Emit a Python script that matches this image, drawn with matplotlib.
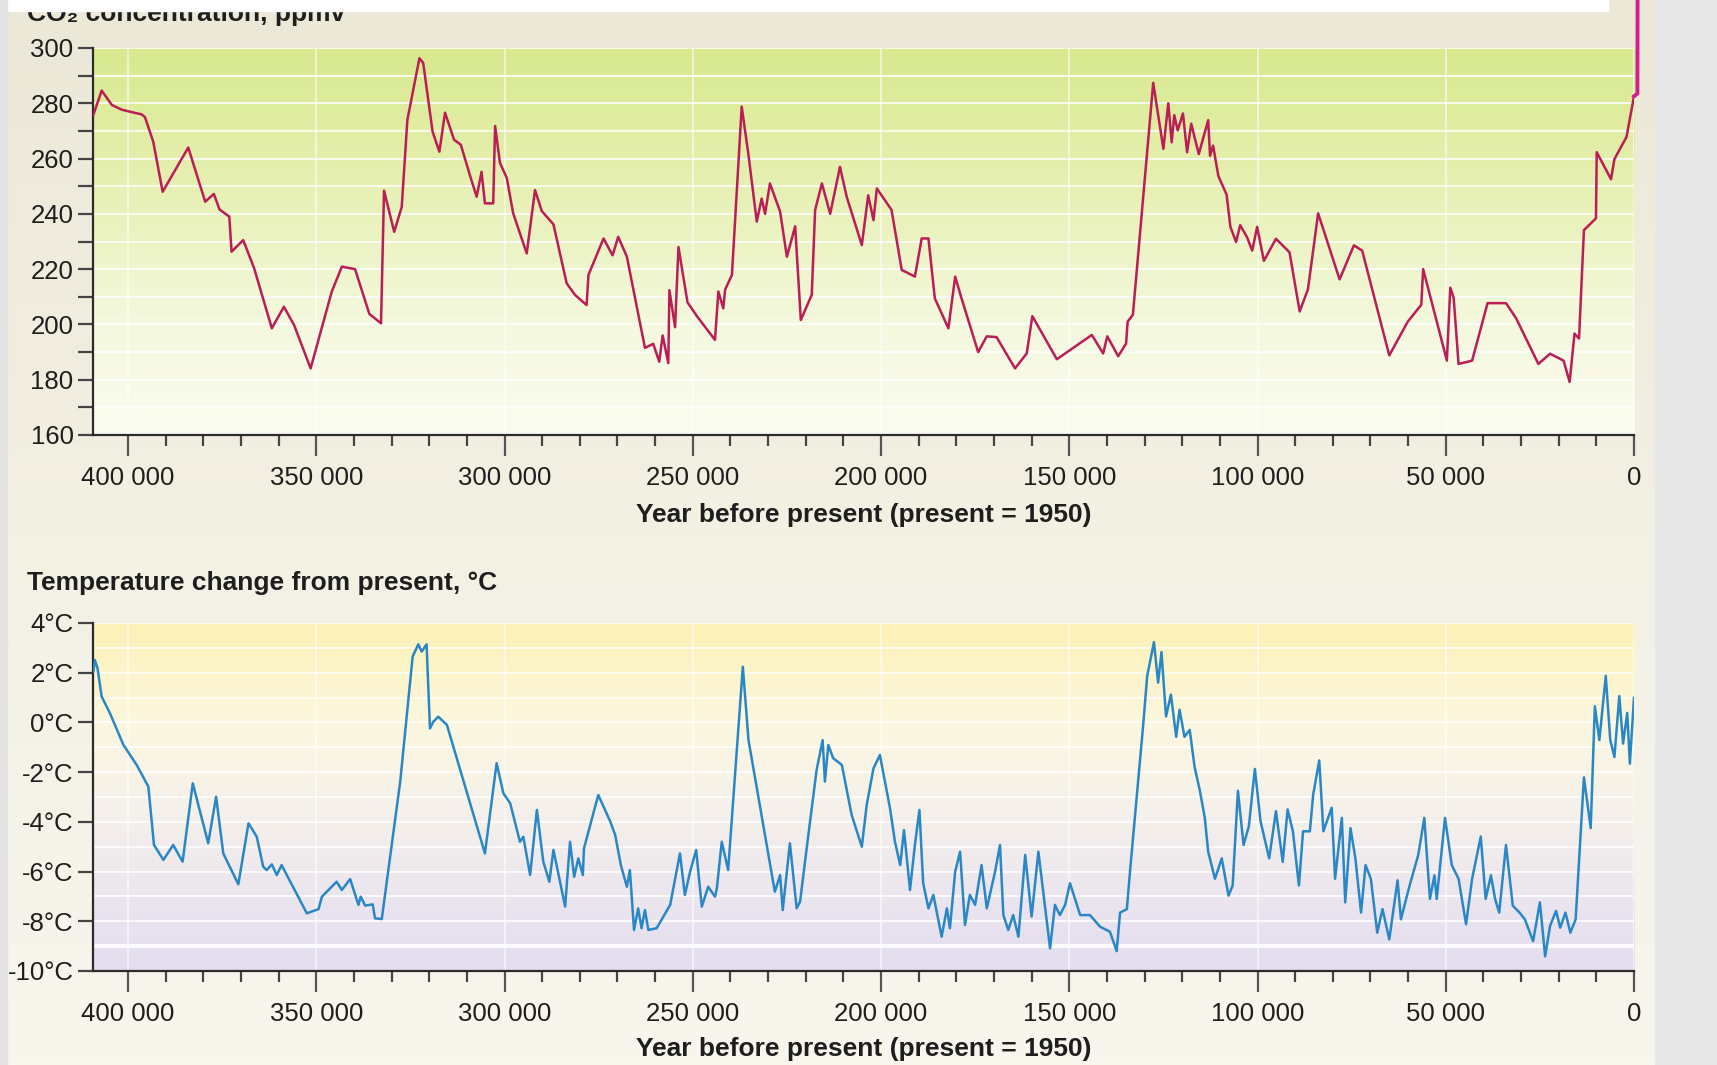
import matplotlib
matplotlib.use('Agg')
import matplotlib.pyplot as plt
import numpy as np
from matplotlib import font_manager
from matplotlib.colors import LinearSegmentedColormap
from matplotlib.ticker import FixedLocator, FuncFormatter
from matplotlib.patches import Rectangle

# ---------------- data ----------------
co2_years = [409200, 407000, 404300, 401700, 399000, 396400, 395500, 393300, 390800, 384000,
             379500, 377200, 375700, 373100, 372500, 369400, 366500, 361800, 358600, 355900,
             351500, 345900, 343200, 339700, 335900, 332800, 332000, 329300, 327300, 325800,
             322600, 321600, 319100, 317300, 315800, 313400, 311600, 309200, 307400, 306100,
             305200, 303000, 302500, 301200, 299400, 297700, 294100, 291900, 290100, 287000,
             283500, 281300, 278200, 277700, 273700, 271300, 269800, 267500, 262700, 260500,
             258900, 258000, 256500, 256200, 254700, 253800, 251400, 248900, 244100, 243200,
             241900, 241400, 239600, 237000, 235200, 233000, 231700, 230800, 229500, 226800,
             225000, 222800, 221300, 218400, 217500, 215700, 213500, 210900, 209100, 205100,
             203400, 202000, 201100, 197200, 194500, 191000, 189200, 187400, 185700, 182100,
             180300, 178600, 174200, 171900, 169300, 164400, 161300, 159800, 153300, 144000,
             141000, 139900, 137000,
             134900, 134500, 133100, 127700, 125000, 123700, 122800,
             122100, 121200, 119800, 118700, 117600, 115600, 113100, 112600, 111800, 110400,
             108200, 107200, 105700, 104600, 102800, 101400, 100100, 98300, 95100, 91500,
             88800, 86600, 83900, 78200, 74400, 72200, 65000, 60100, 56500, 56000,
             49700, 48800, 47900, 46600, 43000, 38900, 34000, 31300, 25400, 22300,
             18700, 17100, 15800, 14600, 13300, 10100, 9900, 6100, 5200, 2000,
             0]
co2_ppmv = [275.8, 284.6, 279.4, 277.7, 276.8, 276.0, 275.0, 266.1, 248.0, 264.0,
            244.4, 247.2, 241.6, 239.0, 226.3, 230.5, 220.3, 198.6, 206.4, 199.8,
            184.1, 211.8, 220.9, 220.0, 203.8, 200.4, 248.4, 233.5, 242.5, 274.0,
            296.3, 294.6, 269.7, 262.5, 276.6, 266.8, 265.0, 254.0, 246.2, 255.2,
            243.8, 243.8, 271.8, 258.4, 253.0, 240.2, 225.7, 248.6, 241.0, 236.2,
            214.9, 210.7, 207.0, 217.9, 231.1, 225.0, 231.7, 224.5, 191.5, 193.0,
            186.5, 196.0, 186.0, 212.4, 199.0, 228.0, 208.0, 203.0, 194.4, 211.9,
            205.8, 212.6, 217.9, 278.8, 261.3, 237.2, 245.5, 240.0, 251.0, 240.8,
            224.5, 235.5, 201.6, 210.7, 241.4, 251.0, 240.0, 257.0, 246.1, 228.7,
            246.7, 237.7, 249.2, 241.4, 219.7, 217.3, 231.1, 231.1, 209.4, 198.6,
            217.3, 209.4, 190.0, 195.7, 195.4, 184.1, 189.5, 203.0, 187.4, 196.2,
            189.5, 195.7, 188.5,
            193.1, 201.0, 203.5, 287.4, 263.5, 280.0, 265.9,
            275.7, 270.2, 276.3, 262.3, 272.6, 261.6, 273.9, 261.0, 264.7, 253.7,
            246.9, 235.3, 229.8, 235.9, 231.6, 226.7, 235.3, 223.0, 231.0, 226.1,
            204.7, 212.7, 240.2, 216.3, 228.6, 226.7, 188.8, 201.0, 207.1, 220.0,
            186.9, 213.3, 209.6, 185.7, 186.9, 207.7, 207.7, 202.2, 185.7, 189.4,
            186.9, 179.2, 196.7, 194.9, 234.1, 238.4, 262.3, 252.5, 259.8, 267.8,
            282.5]
# modern (post-1950) rise, drawn just right of year 0
modern_years = [0, -900, -1100]
modern_ppmv = [282.5, 283.5, 420.0]

temp_years = [409200, 408800, 408100, 407000, 404800, 401200, 397700, 394600, 393100, 390600,
              388000, 385500, 382800, 378700, 376600, 374700, 370700, 368000, 365800, 364100,
              363200, 361800, 360500, 359200, 352500, 349400, 348500, 344600, 343200, 341000,
              338800, 338200, 337000, 335000, 334400, 332600, 327700, 324400, 322900, 322000,
              320700, 319800, 318900, 317600, 315300, 305200, 302100, 300300, 298500, 295900,
              295000, 293200, 291400, 289700, 288100, 287000, 283900, 282600, 281500, 280400,
              279200, 278900, 275100, 271900, 270600, 269100, 267500, 266700, 265600, 264500,
              263600, 262700, 261800, 259600, 256000, 253400, 252100, 250700, 249100, 247600,
              245900, 244100, 243600, 242300, 240600, 236700, 235200, 228200, 226800, 226100,
              224200, 222400, 221500, 219300, 217100, 215500, 214900, 214000, 212700, 210400,
              209100, 207800, 206400, 205100, 203800, 202000, 200300, 197600, 196300, 194900,
              193900, 192300, 191000, 189800, 188800, 187400, 186100, 183900, 182500, 181700,
              180300, 179000, 177700, 176400, 175000, 173300, 171900, 169700, 168400, 167500,
              166200, 164900, 163500, 161700, 160000, 158200, 155100, 153800, 152500, 151100,
              149800, 147100, 144500, 141800, 139200, 137400, 136500, 134700, 133800, 130400,
              129300, 127500, 126400, 125500, 124300, 123000, 121600, 120700, 119400, 118000,
              116700, 115300, 114000, 113100, 111300, 109500, 107700, 106600, 105200, 103700,
              102300, 100700, 99200, 96900, 95100, 93300, 92000, 90600, 89000, 87900,
              86100, 85200, 83600, 82500, 80300, 79400, 77600, 76700, 75300, 74000,
              72500, 71300, 69900, 68200, 66800, 65000, 62800, 61900, 59600, 57300,
              55700, 54200, 53000, 52400, 50200, 48400, 46600, 44600, 43000, 40700,
              39400, 38000, 36900, 35800, 34000, 32200, 30400, 29000, 26800, 25000,
              23600, 22300, 20700, 19600, 18200, 16900, 15500, 13300, 11500, 10400,
              9200, 7500, 6300, 5200, 3900, 2900, 1800, 1100, 0]
temp_change = [2.04, 2.51, 2.18, 1.04, 0.37, -0.91, -1.71, -2.58, -4.93, -5.53,
               -4.93, -5.6, -2.45, -4.86, -2.99, -5.27, -6.51, -4.06, -4.6, -5.8,
               -5.94, -5.71, -6.14, -5.74, -7.68, -7.51, -7.01, -6.41, -6.74, -6.3,
               -7.34, -7.01, -7.37, -7.32, -7.88, -7.91, -2.38, 2.65, 3.14, 2.85,
               3.14, -0.24, 0.03, 0.23, -0.1, -5.27, -1.64, -2.85, -3.25, -4.8,
               -4.6, -6.14, -3.52, -5.6, -6.41, -5.13, -7.41, -4.8, -6.21, -5.47,
               -6.14, -5.07, -2.92, -3.99, -4.53, -5.74, -6.61, -5.94, -8.35, -7.48,
               -8.28, -7.55, -8.35, -8.28, -7.34, -5.27, -6.94, -6.0, -5.13, -7.41,
               -6.61, -7.01, -6.67, -4.8, -5.94, 2.24, -0.71, -6.81, -6.14, -7.55,
               -4.86, -7.48, -7.21, -4.53, -1.91, -0.71, -2.38, -0.91, -1.44, -1.71,
               -2.72, -3.72, -4.39, -5.0, -3.32, -1.85, -1.31, -3.46, -4.8, -5.74,
               -4.33, -6.74, -4.93, -3.52, -6.47, -7.48, -6.94, -8.62, -7.48, -8.28,
               -6.0, -5.2, -8.15, -6.94, -7.34, -5.74, -7.48, -6.0, -4.93, -7.75,
               -8.35, -7.75, -8.62, -5.33, -7.81, -5.2, -9.09, -7.34, -7.75, -7.34,
               -6.47, -7.75, -7.75, -8.22, -8.42, -9.2, -7.65, -7.51, -5.88, -0.17,
               1.87, 3.23, 1.6, 2.83, 0.24, 1.12, -0.58, 0.51, -0.58, -0.3,
               -1.8, -2.75, -3.84, -5.2, -6.29, -5.47, -6.97, -6.56, -2.75, -4.93,
               -4.18, -1.87, -3.97, -5.47, -3.57, -5.61, -3.5, -4.38, -6.56, -4.38,
               -4.38, -2.89, -1.53, -4.38, -3.43, -6.29, -3.84, -7.24, -4.25, -5.47,
               -7.65, -5.74, -6.29, -8.46, -7.51, -8.73, -6.35, -7.92, -6.56, -5.33,
               -3.84, -7.1, -6.15, -7.1, -3.84, -5.74, -6.29, -8.12, -6.29, -4.59,
               -7.1, -6.15, -7.1, -7.65, -4.93, -7.37, -7.65, -7.92, -8.8, -7.24,
               -9.41, -8.19, -7.58, -8.26, -7.65, -8.46, -7.92, -2.21, -4.25, 0.65,
               -0.71, 1.87, -0.71, -1.39, 1.06, -0.85, 0.38, -1.66, 0.99]

x_major = [0, 50000, 100000, 150000, 200000, 250000, 300000, 350000, 400000]
co2_ticks = [160, 180, 200, 220, 240, 260, 280, 300]
temp_ticks = [-10, -8, -6, -4, -2, 0, 2, 4]
temp_labels = [f'{t}°C' for t in temp_ticks]

co2_title = 'CO₂ concentration, ppmv'
temp_title = 'Temperature change from present, °C'
x_title = 'Year before present (present = 1950)'

# ---------------- style ----------------
names = {f.name for f in font_manager.fontManager.ttflist}
FONT = 'Liberation Sans Narrow' if 'Liberation Sans Narrow' in names else 'Liberation Sans'
plt.rcParams['font.family'] = [FONT, 'DejaVu Sans']

W, H = 1717, 1065
fig = plt.figure(figsize=(W / 100, H / 100), dpi=100)


def fx(px):
    return px / W


def fy(py):
    return 1 - py / H


# page background
bg = fig.add_axes([0, 0, 1, 1], zorder=-10)
bg_cmap = LinearSegmentedColormap.from_list('bg', ['#f8f6ed', '#f3f0e4', '#ece8d8'])
bg.imshow(np.linspace(0, 1, 256).reshape(-1, 1), cmap=bg_cmap, aspect='auto',
          origin='lower', extent=[0, 1, 0, 1])
bg.set_axis_off()

L, R = 93, 1634
ax1 = fig.add_axes([fx(L), fy(435), (R - L) / W, (435 - 48) / H])
ax2 = fig.add_axes([fx(L), fy(971), (R - L) / W, (971 - 623) / H])

XMAX = 409300
TXT = '#1e1e1e'
SP = '#2b2b2b'
LBL = 18.5
TTL = 19

top_cmap = LinearSegmentedColormap.from_list(
    'top', [(0.0, '#fbfcf1'), (0.3, '#f4f8dc'), (0.65, '#e6f0b2'), (1.0, '#d8e98e')])
bot_cmap = LinearSegmentedColormap.from_list(
    'bot', [(0.0, '#e4ddf0'), (0.2, '#ebe5ef'), (0.45, '#f5f0ea'), (0.7, '#fcf7e0'),
            (1.0, '#fdf1b6')])

grad = np.linspace(0, 1, 256).reshape(-1, 1)
ax1.imshow(grad, cmap=top_cmap, aspect='auto', origin='lower',
           extent=[XMAX, 0, 160, 300], zorder=0)
ax2.imshow(grad, cmap=bot_cmap, aspect='auto', origin='lower',
           extent=[XMAX, 0, -10, 4], zorder=0)

for y in range(170, 301, 10):
    ax1.axhline(y, color='white', lw=1.3, alpha=0.85, zorder=1)
for y in range(-9, 5):
    ax2.axhline(y, color='white', lw=3.0 if y == -9 else 1.3, alpha=0.85, zorder=1)
for ax in (ax1, ax2):
    for x in x_major:
        ax.axvline(x, color='white', lw=1.3, alpha=0.6, zorder=1)

ax1.plot(co2_years, co2_ppmv, color='#bb1d55', lw=1.8, zorder=3)
ax1.plot(modern_years, modern_ppmv, color='#d0208c', lw=2.8, zorder=4, clip_on=False)
ax2.plot(temp_years, temp_change, color='#2a87c6', lw=1.8, zorder=3)

fmt = FuncFormatter(lambda v, p: f'{int(v):,}'.replace(',', ' '))
minor_x = [v for v in range(10000, 410000, 10000) if v % 50000]
for ax in (ax1, ax2):
    ax.set_xlim(XMAX, 0)
    ax.set_facecolor('none')
    ax.spines[['top', 'right']].set_visible(False)
    for s in ('left', 'bottom'):
        ax.spines[s].set_linewidth(1.6)
        ax.spines[s].set_color(SP)
    ax.xaxis.set_major_locator(FixedLocator(x_major))
    ax.xaxis.set_minor_locator(FixedLocator(minor_x))
    ax.xaxis.set_major_formatter(fmt)
    ax.tick_params(axis='x', which='major', length=15, width=1.6, pad=7,
                   labelsize=LBL, color='#555555', labelcolor=TXT)
    ax.tick_params(axis='x', which='minor', length=8, width=1.6, color='#444444')
    ax.tick_params(axis='y', which='both', length=11, width=1.6, pad=3,
                   labelsize=LBL, color='#444444', labelcolor=TXT)

ax1.set_ylim(160, 300)
ax1.yaxis.set_major_locator(FixedLocator(co2_ticks))
ax1.yaxis.set_minor_locator(FixedLocator(list(range(170, 300, 20))))
ax1.set_yticklabels([str(t) for t in co2_ticks])

ax2.set_ylim(-10, 4)
ax2.yaxis.set_major_locator(FixedLocator(temp_ticks))
ax2.set_yticklabels(temp_labels)

fig.text(fx(27), fy(21), co2_title, fontsize=TTL, fontweight='bold', color=TXT,
         va='baseline', ha='left', zorder=3)
fig.text(fx(27), fy(583), temp_title, fontsize=TTL, fontweight='bold', color=TXT,
         va='center', ha='left')
fig.text(fx((L + R) / 2), fy(515), x_title, fontsize=TTL, fontweight='bold', color=TXT,
         va='center', ha='center')
fig.text(fx((L + R) / 2), fy(1049), x_title, fontsize=TTL, fontweight='bold', color=TXT,
         va='center', ha='center')

# white band across the top and grey page margins
fig.patches.append(Rectangle((fx(7), fy(11)), fx(1608) - fx(7), 11 / H,
                             transform=fig.transFigure, color='white', zorder=5))
fig.patches.append(Rectangle((0, 0), fx(7), 1, transform=fig.transFigure,
                             color='#e4e4e4', zorder=6))
fig.patches.append(Rectangle((fx(1655), 0), 1 - fx(1655), 1, transform=fig.transFigure,
                             color='#e8e8e8', zorder=6))

fig.savefig('out.png', dpi=100)
